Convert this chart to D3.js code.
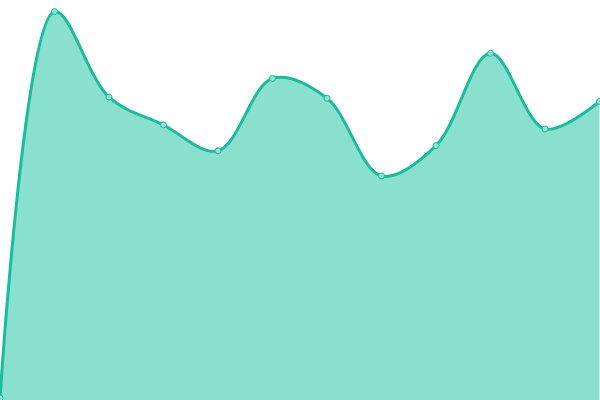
<!DOCTYPE html>
<html>
<head>
<meta charset="utf-8">
<script src="https://cdn.jsdelivr.net/npm/d3@7"></script>
<style>
  html, body { margin: 0; padding: 0; background: #fff; }
  svg { display: block; }
</style>
</head>
<body>
<svg id="chart" width="600" height="400"></svg>
<script>
// data
var categories = [0, 1, 2, 3, 4, 5, 6, 7, 8, 9, 10, 11];
var values = [0, 97.1, 75.6, 68.6, 62.1, 80.3, 75.3, 55.8, 63.4, 86.6, 67.6, 74.5];

var width = 600;
var height = 400;

var svg = d3.select('#chart');

var x = d3.scalePoint()
    .domain(categories)
    .range([0, 599.5]);

var y = d3.scaleLinear()
    .domain([0, 100])
    .range([398, 0]);

var points = categories.map(function(c, i){ return {c: c, v: values[i]}; });

var curve = d3.curveCatmullRom.alpha(0.5);

var area = d3.area()
    .x(function(d){ return x(d.c); })
    .y0(height)
    .y1(function(d){ return y(d.v); })
    .curve(curve);

var line = d3.line()
    .x(function(d){ return x(d.c); })
    .y(function(d){ return y(d.v); })
    .curve(curve);

svg.append('path')
    .datum(points)
    .attr('d', area)
    .attr('fill', '#89e0cf');

svg.append('path')
    .datum(points)
    .attr('d', line)
    .attr('fill', 'none')
    .attr('stroke', '#1abc9c')
    .attr('stroke-width', 3);

svg.selectAll('circle.pt')
    .data(points)
    .enter().append('circle')
    .classed('pt', true)
    .attr('cx', function(d){ return x(d.c); })
    .attr('cy', function(d){ return y(d.v); })
    .attr('r', 3)
    .attr('fill', '#8ee3d1')
    .attr('stroke', '#1abc9c')
    .attr('stroke-width', 1);
</script>
</body>
</html>
